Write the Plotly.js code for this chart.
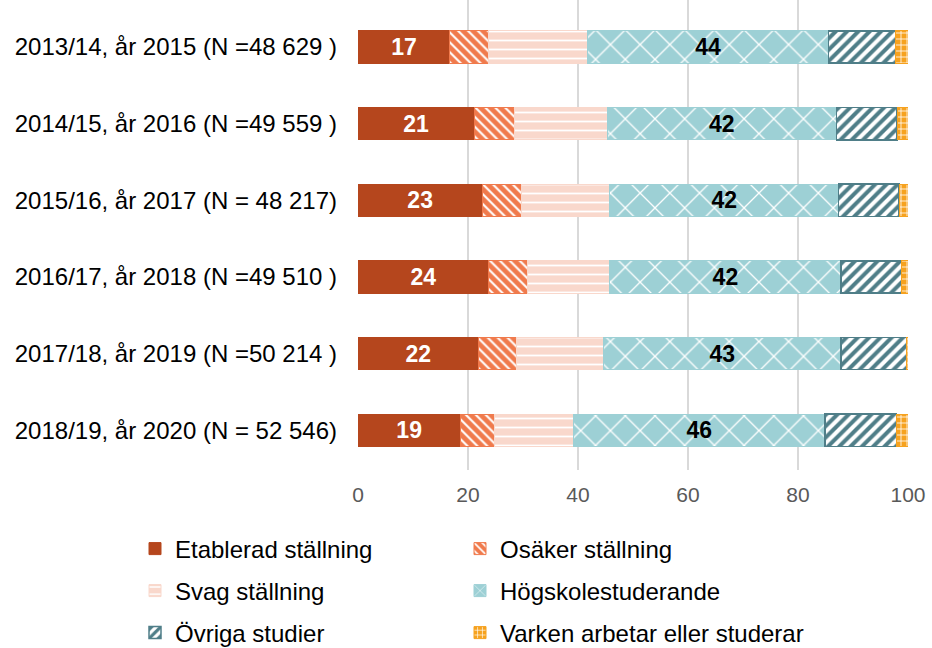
<!DOCTYPE html>
<html>
<head>
<meta charset="utf-8">
<script src="https://cdn.plot.ly/plotly-3.0.1.min.js"></script>
<style>
  body { margin: 0; background: #fff; }
  #plot { width: 932px; height: 648px; }
</style>
</head>
<body>
<div id="plot"></div>
<script>
// Kohorter (y-axelns etiketter)
var cohorts = [
  "2013/14, år 2015 (N =48 629 )",
  "2014/15, år 2016 (N =49 559 )",
  "2015/16, år 2017 (N = 48 217)",
  "2016/17, år 2018 (N =49 510 )",
  "2017/18, år 2019 (N =50 214 )",
  "2018/19, år 2020 (N = 52 546)"
];

// Andelar i procent, en lista per kategori
var etablerad = [16.7, 21.1, 22.6, 23.8, 21.9, 18.6];
var osaker    = [7.1, 7.3, 7.1, 7.0, 6.9, 6.3];
var svag      = [18.0, 16.9, 16.1, 15.0, 15.9, 14.3];
var hogskola  = [43.7, 41.7, 41.6, 42.0, 43.1, 45.7];
var ovriga    = [12.2, 11.0, 11.0, 11.0, 12.0, 13.0];
var varken    = [2.3, 2.0, 1.6, 1.2, 0.2, 2.1];

var names = [
  "Etablerad ställning", "Osäker ställning", "Svag ställning",
  "Högskolestuderande", "Övriga studier", "Varken arbetar eller studerar"
];

// en legend per post, så att de hamnar i två kolumner
var legendIds = ["legend", "legend2", "legend3", "legend4", "legend5", "legend6"];

function bar(vals, i, opts) {
  var t = {
    type: "bar",
    orientation: "h",
    name: names[i],
    y: cohorts,
    x: vals,
    hoverinfo: "skip",
    textposition: "none",
    legend: legendIds[i],
    showlegend: true,
    marker: opts.marker
  };
  if (opts.labels) {
    t.text = vals.map(v => Math.round(v));
    t.textposition = "inside";
    t.insidetextanchor = "middle";
    t.textangle = 0;
    t.constraintext = "none";
    t.textfont = {family: "Liberation Sans, Arial, sans-serif", size: 23, color: opts.labels, weight: "bold"};
  }
  return t;
}

var traces = [
  bar(etablerad, 0, {labels: "#ffffff", marker: {color: "#B5461D", line: {color: "#B5461D", width: 1}}}),
  bar(osaker, 1, {marker: {color: "#F07A4C", line: {color: "#F07A4C", width: 1},
    pattern: {shape: "\\", fgcolor: "#ffffff", bgcolor: "#F07A4C", size: 7, solidity: 0.3}}}),
  bar(svag, 2, {marker: {color: "#F9D8CC", line: {color: "#F9D8CC", width: 1},
    pattern: {shape: "-", fgcolor: "#ffffff", bgcolor: "#F9D8CC", size: 9, solidity: 0.2}}}),
  bar(hogskola, 3, {labels: "#000000", marker: {color: "#9DD0D5", line: {color: "#9DD0D5", width: 1},
    pattern: {shape: "x", fgcolor: "#ffffff", bgcolor: "#9DD0D5", size: 21, solidity: 0.12}}}),
  bar(ovriga, 4, {marker: {color: "#4F7E88", line: {color: "#4F7E88", width: 1.5},
    pattern: {shape: "/", fgcolor: "#4F7E88", bgcolor: "#ffffff", size: 8, solidity: 0.5}}}),
  bar(varken, 5, {marker: {color: "#F6A21F", line: {color: "#F6A21F", width: 1},
    pattern: {shape: "+", fgcolor: "#ffffff", bgcolor: "#F6A21F", size: 6, solidity: 0.25}}})
];

var legendX = [135, 460];
var legendY = [549, 591, 633];

function legendAt(i) {
  return {
    orientation: "h",
    xref: "container", yref: "container",
    x: legendX[i % 2] / 932,
    y: 1 - legendY[Math.floor(i / 2)] / 648,
    xanchor: "left", yanchor: "middle",
    font: {family: "Liberation Sans, Arial, sans-serif", size: 24, color: "#000000"},
    bgcolor: "rgba(0,0,0,0)"
  };
}

var layout = {
  width: 932,
  height: 648,
  showlegend: true,
  margin: {l: 358, r: 24, t: 0, b: 178, autoexpand: false},
  paper_bgcolor: "#ffffff",
  plot_bgcolor: "#ffffff",
  barmode: "stack",
  bargap: 0.58,
  font: {family: "Liberation Sans, Arial, sans-serif"},
  xaxis: {
    range: [0, 100],
    dtick: 20,
    showgrid: true,
    gridcolor: "#D9D9D9",
    gridwidth: 1.5,
    zeroline: false,
    showline: false,
    ticks: "",
    ticklabelstandoff: 10,
    tickfont: {size: 21, color: "#595959"}
  },
  yaxis: {
    type: "category",
    range: [5.52, -0.614],
    showgrid: false,
    zeroline: false,
    showline: false,
    ticks: "",
    ticklabelstandoff: 20,
    tickfont: {size: 24, color: "#000000"}
  }
};
legendIds.forEach((id, i) => { layout[id] = legendAt(i); });

Plotly.newPlot("plot", traces, layout, {staticPlot: true, displayModeBar: false});
</script>
</body>
</html>
